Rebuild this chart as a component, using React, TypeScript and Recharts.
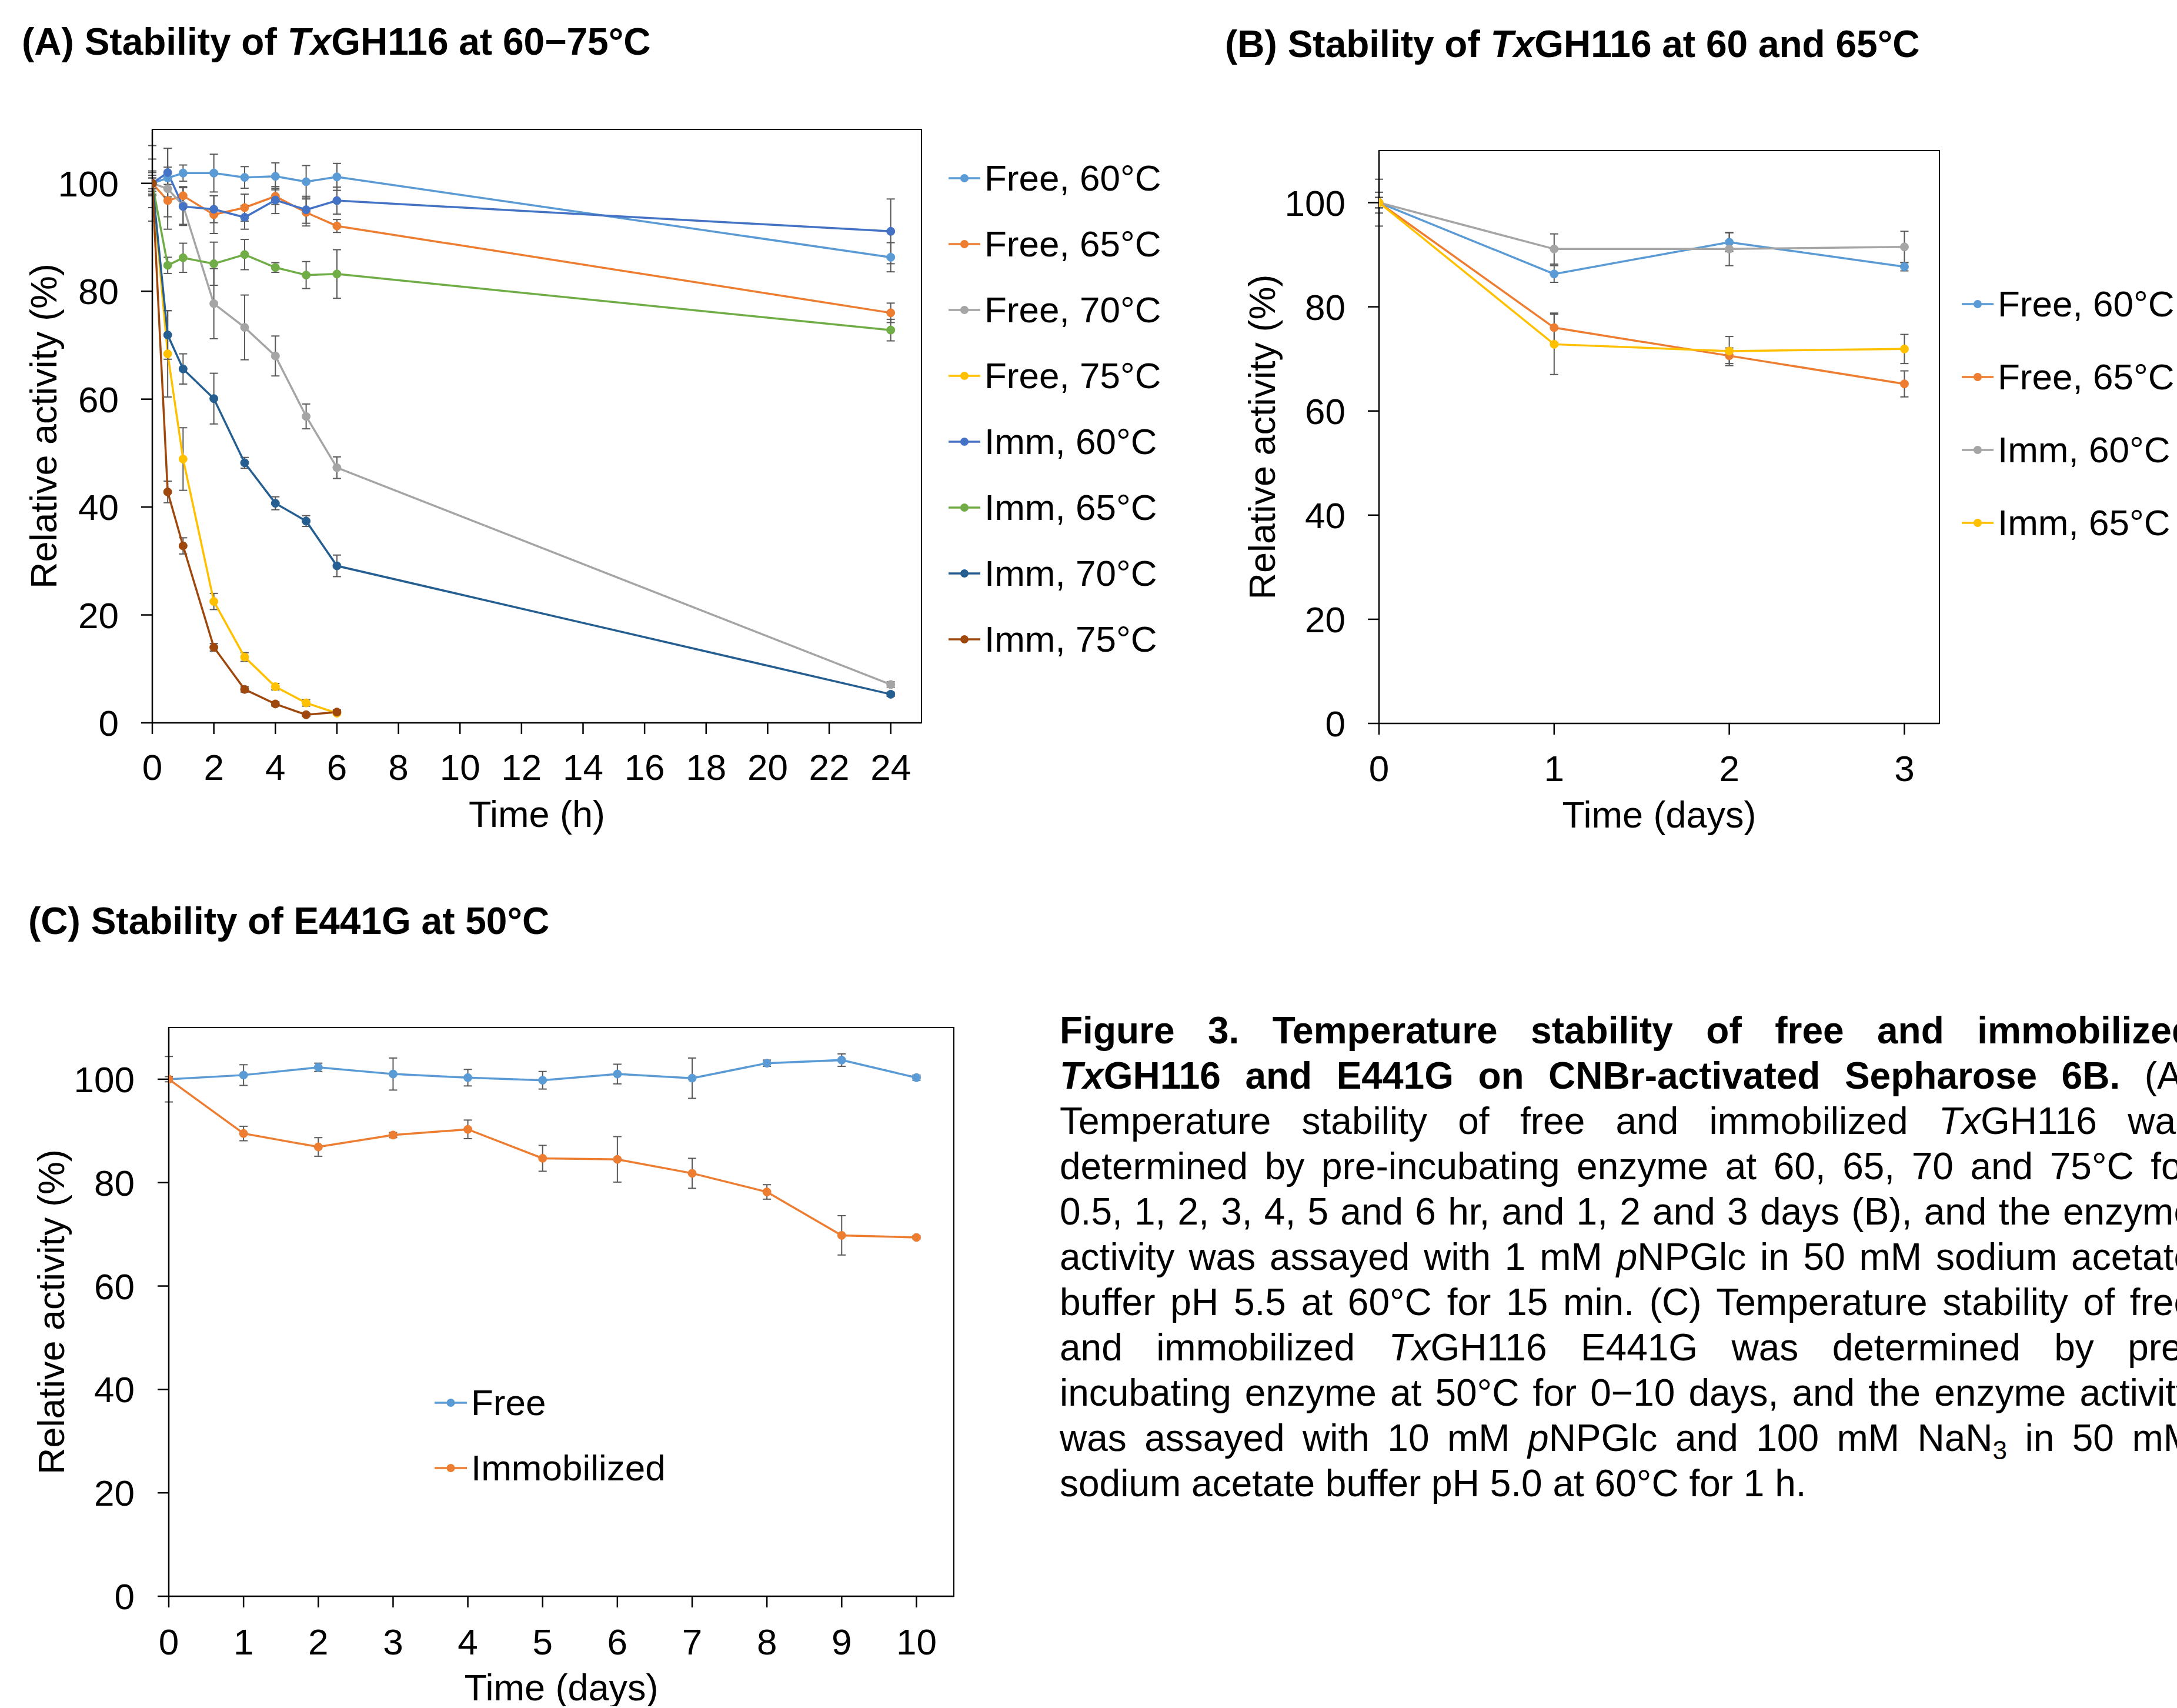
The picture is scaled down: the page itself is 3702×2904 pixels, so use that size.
import React from 'react';
import { LineChart, Line, XAxis, YAxis, ErrorBar, Legend, ReferenceArea, Label } from 'recharts';

const FONT = '"Liberation Sans", Arial, Helvetica, sans-serif';

// ---------- (A) 60-75 °C, hours ----------
const hoursA = [0, 0.5, 1, 2, 3, 4, 5, 6, 24];
const free60A = [100, 101, 101.9, 101.9, 101.1, 101.3, 100.3, 101.2, 86.3];
const free65A = [100, 96.8, 97.7, 94.2, 95.5, 97.6, 94.6, 92.1, 76.0];
const free70A = [100, 99, 95.9, 77.7, 73.3, 68, 56.8, 47.3, 7.1];
const free75A = [100, 68.4, 48.9, 22.5, 12.2, 6.7, 3.7, 1.8];
const imm60A = [100, 102, 95.7, 95.2, 93.7, 96.9, 95.1, 96.8, 91.1];
const imm65A = [100, 84.8, 86.2, 85.1, 86.8, 84.4, 83, 83.2, 72.8];
const imm70A = [100, 71.9, 65.6, 60.1, 48.2, 40.7, 37.4, 29.1, 5.3];
const imm75A = [100, 42.8, 32.8, 14, 6.2, 3.5, 1.5, 2];

const free60AErr = [4.5, 2, 1.5, 3.5, 2, 2.5, 3, 2.5, 2.7];
const free65AErr = [7, 3, 1.5, 3.5, 2.5, 1.5, 2.5, 1.2, 1.8];
const free70AErr = [2.3, 7.5, 3.5, 6.5, 6, 3.7, 2.3, 2, 0.5];
const free75AErr = [1.5, 8, 5.8, 1.5, 0.8, 0.6, 0.6, 0.3];
const imm60AErr = [2, 4.5, 3.5, 2.5, 2.2, 2.5, 2.5, 2.5, 6];
const imm65AErr = [1.5, 1.5, 2.7, 4, 2.8, 0.9, 2.5, 4.5, 2];
const imm70AErr = [1, 4.5, 2.8, 4.7, 1, 1.2, 1, 2, 0.4];
const imm75AErr = [1, 2, 1.5, 0.7, 0.5, 0.4, 0.3, 0.4];

const ticksA = [0, 2, 4, 6, 8, 10, 12, 14, 16, 18, 20, 22, 24];

// ---------- (B) 60 and 65 °C, days ----------
const daysB = [0, 1, 2, 3];
const free60B = [100, 86.3, 92.4, 87.7];
const free65B = [100, 76, 70.6, 65.2];
const imm60B = [100, 91.1, 91.1, 91.5];
const imm65B = [100, 72.8, 71.5, 71.9];

const free60BErr = [4.5, 1.6, 1.8, 0.8];
const free65BErr = [2, 2.8, 1.5, 2.5];
const imm60BErr = [1, 2.9, 3.2, 3];
const imm65BErr = [1, 5.8, 2.8, 2.8];

const ticksB = [0, 1, 2, 3];

// ---------- (C) E441G at 50 °C, days ----------
const daysC = [0, 1, 2, 3, 4, 5, 6, 7, 8, 9, 10];
const freeC = [100, 100.8, 102.3, 101, 100.3, 99.8, 101, 100.2, 103.1, 103.7, 100.3];
const immC = [100, 89.5, 86.9, 89.2, 90.3, 84.7, 84.5, 81.8, 78.2, 69.8, 69.4];
const freeCErr = [4.4, 2, 0.8, 3.1, 1.6, 1.7, 1.9, 3.9, 0.6, 1.2, 0.5];
const immCErr = [0.5, 1.4, 1.8, 0.5, 1.8, 2.5, 4.4, 2.9, 1.4, 3.8, 0.3];

const ticksC = [0, 1, 2, 3, 4, 5, 6, 7, 8, 9, 10];

const yTicks = [0, 20, 40, 60, 80, 100];

const toPoints = (xs: number[], ys: number[], es: number[]) =>
  ys.map((y, i) => ({ x: xs[i], y, e: es[i] }));

const seriesA = [
  { name: 'Free, 60°C', color: '#5B9BD5', data: toPoints(hoursA, free60A, free60AErr) },
  { name: 'Free, 65°C', color: '#ED7D31', data: toPoints(hoursA, free65A, free65AErr) },
  { name: 'Free, 70°C', color: '#A5A5A5', data: toPoints(hoursA, free70A, free70AErr) },
  { name: 'Free, 75°C', color: '#FFC000', data: toPoints(hoursA, free75A, free75AErr) },
  { name: 'Imm, 60°C', color: '#4472C4', data: toPoints(hoursA, imm60A, imm60AErr) },
  { name: 'Imm, 65°C', color: '#70AD47', data: toPoints(hoursA, imm65A, imm65AErr) },
  { name: 'Imm, 70°C', color: '#255E91', data: toPoints(hoursA, imm70A, imm70AErr) },
  { name: 'Imm, 75°C', color: '#9E480E', data: toPoints(hoursA, imm75A, imm75AErr) },
];

const seriesB = [
  { name: 'Free, 60°C', color: '#5B9BD5', data: toPoints(daysB, free60B, free60BErr) },
  { name: 'Free, 65°C', color: '#ED7D31', data: toPoints(daysB, free65B, free65BErr) },
  { name: 'Imm, 60°C', color: '#A5A5A5', data: toPoints(daysB, imm60B, imm60BErr) },
  { name: 'Imm, 65°C', color: '#FFC000', data: toPoints(daysB, imm65B, imm65BErr) },
];

const seriesC = [
  { name: 'Free', color: '#5B9BD5', data: toPoints(daysC, freeC, freeCErr) },
  { name: 'Immobilized', color: '#ED7D31', data: toPoints(daysC, immC, immCErr) },
];

type Seg = [string, string];
const captionLines: Seg[][] = [
  [['Figure 3. Temperature stability of free and immobilized', 'b']],
  [['Tx', 'bi'], ['GH116 and E441G on CNBr-activated Sepharose 6B.', 'b'], [' (A)', 'n']],
  [['Temperature stability of free and immobilized ', 'n'], ['Tx', 'i'], ['GH116 was', 'n']],
  [['determined by pre-incubating enzyme at 60, 65, 70 and 75°C for', 'n']],
  [['0.5, 1, 2, 3, 4, 5 and 6 hr, and 1, 2 and 3 days (B), and the enzyme', 'n']],
  [['activity was assayed with 1 mM ', 'n'], ['p', 'i'], ['NPGlc in 50 mM sodium acetate', 'n']],
  [['buffer pH 5.5 at 60°C for 15 min. (C) Temperature stability of free', 'n']],
  [['and immobilized ', 'n'], ['Tx', 'i'], ['GH116 E441G was determined by pre-', 'n']],
  [['incubating enzyme at 50°C for 0−10 days, and the enzyme activity', 'n']],
  [['was assayed with 10 mM ', 'n'], ['p', 'i'], ['NPGlc and 100 mM NaN', 'n'], ['3', 'sub'], [' in 50 mM', 'n']],
  [['sodium acetate buffer pH 5.0 at 60°C for 1 h.', 'n']],
];

const makeLegend = (rowHeight: number, lineLen: number) => (props: any) => (
  <div style={{ fontFamily: FONT, fontSize: 62, color: '#000' }}>
    {(props.payload || []).map((p: any) => (
      <div
        key={p.value}
        style={{ display: 'flex', alignItems: 'center', height: rowHeight, whiteSpace: 'nowrap' }}
      >
        <svg width={lineLen} height={20} style={{ flex: 'none' }}>
          <line x1={0} y1={10} x2={lineLen} y2={10} stroke={p.color} strokeWidth={3.5} />
          <circle cx={lineLen / 2} cy={10} r={7} fill={p.color} />
        </svg>
        <span style={{ marginLeft: 7, lineHeight: 1 }}>{p.value}</span>
      </div>
    ))}
  </div>
);

interface PanelProps {
  series: { name: string; color: string; data: { x: number; y: number; e: number }[] }[];
  left: number;
  top: number;
  width: number;
  height: number;
  margin: { top: number; right: number; bottom: number; left: number };
  yAxisWidth: number;
  yLabelOffset: number;
  xDomain: [number, number];
  xTicks: number[];
  xTickMargin: number;
  yTickMargin: number;
  xLabel: string;
  legendPos: { left: number; top: number };
  legendRow: number;
  legendLine: number;
}

function Panel(p: PanelProps) {
  const tickStyle = { fill: '#000', fontSize: 62, fontFamily: FONT };
  const labelStyle = { fill: '#000', fontSize: 63, fontFamily: FONT };
  return (
    <div style={{ position: 'absolute', left: p.left, top: p.top }}>
      <LineChart width={p.width} height={p.height} margin={p.margin}>
        <ReferenceArea
          x1={p.xDomain[0]}
          x2={p.xDomain[1]}
          y1={0}
          y2={110}
          fill="none"
          fillOpacity={0}
          stroke="#000"
          strokeWidth={2}
        />
        <XAxis
          type="number"
          dataKey="x"
          domain={p.xDomain}
          ticks={p.xTicks}
          interval={0}
          height={177}
          tick={tickStyle}
          tickSize={19}
          tickMargin={p.xTickMargin}
          stroke="#000"
          strokeWidth={2.5}
          allowDataOverflow
        >
          <Label value={p.xLabel} position="insideBottom" offset={0} style={labelStyle} />
        </XAxis>
        <YAxis
          type="number"
          dataKey="y"
          domain={[0, 110]}
          ticks={yTicks}
          interval={0}
          width={p.yAxisWidth}
          tick={tickStyle}
          tickSize={19}
          tickMargin={p.yTickMargin}
          stroke="#000"
          strokeWidth={2.5}
          allowDataOverflow
        >
          <Label
            value="Relative activity (%)"
            angle={-90}
            position="insideLeft"
            offset={p.yLabelOffset}
            style={{ ...labelStyle, textAnchor: 'middle' }}
          />
        </YAxis>
        {p.series.map((s) => (
          <Line
            key={s.name}
            name={s.name}
            data={s.data}
            dataKey="y"
            type="linear"
            stroke={s.color}
            strokeWidth={3.5}
            dot={{ r: 7, fill: s.color, stroke: s.color, strokeWidth: 1 }}
            activeDot={false}
            isAnimationActive={false}
          >
            <ErrorBar dataKey="e" direction="y" width={7} stroke="#595959" strokeWidth={2} />
          </Line>
        ))}
        <Legend
          layout="vertical"
          align="center"
          verticalAlign="middle"
          content={makeLegend(p.legendRow, p.legendLine)}
          wrapperStyle={{ left: p.legendPos.left, top: p.legendPos.top, width: 420 }}
        />
      </LineChart>
    </div>
  );
}

const segStyle = (kind: string): React.CSSProperties => {
  if (kind === 'b') return { fontWeight: 'bold' };
  if (kind === 'bi') return { fontWeight: 'bold', fontStyle: 'italic' };
  if (kind === 'i') return { fontStyle: 'italic' };
  if (kind === 'sub') return { fontSize: 44, position: 'relative', top: 14 };
  return {};
};

function Title({ left, top, parts }: { left: number; top: number; parts: Seg[] }) {
  return (
    <div
      style={{
        position: 'absolute',
        left,
        top,
        fontFamily: FONT,
        fontWeight: 'bold',
        fontSize: 64,
        lineHeight: '64px',
        whiteSpace: 'nowrap',
        color: '#000',
      }}
    >
      {parts.map(([t, k], i) => (
        <span key={i} style={k === 'bi' ? { fontStyle: 'italic' } : {}}>
          {t}
        </span>
      ))}
    </div>
  );
}

export default function App() {
  return (
    <div
      style={{
        position: 'absolute',
        left: 0,
        top: 0,
        width: 3702,
        height: 2904,
        overflow: 'hidden',
        background: '#fff',
      }}
    >
      <Title left={37} top={39} parts={[['(A) Stability of ', 'b'], ['Tx', 'bi'], ['GH116 at 60−75°C', 'b']]} />
      <Title left={2083} top={43} parts={[['(B) Stability of ', 'b'], ['Tx', 'bi'], ['GH116 at 60 and 65°C', 'b']]} />
      <Title left={48} top={1534} parts={[['(C) Stability of E441G at 50°C', 'b']]} />

      <Panel
        series={seriesA}
        left={0}
        top={0}
        width={1900}
        height={1426}
        margin={{ top: 220, right: 333, bottom: 20, left: 0 }}
        yAxisWidth={259}
        yLabelOffset={74}
        xDomain={[0, 25]}
        xTicks={ticksA}
        xTickMargin={34}
        yTickMargin={38}
        xLabel="Time (h)"
        legendPos={{ left: 1613, top: 247 }}
        legendRow={112}
        legendLine={54}
      />

      <Panel
        series={seriesB}
        left={2080}
        top={0}
        width={1622}
        height={1426}
        margin={{ top: 256, right: 404, bottom: 19, left: 0 }}
        yAxisWidth={265}
        yLabelOffset={66}
        xDomain={[0, 3.2]}
        xTicks={ticksB}
        xTickMargin={35}
        yTickMargin={38}
        xLabel="Time (days)"
        legendPos={{ left: 1256, top: 455 }}
        legendRow={124}
        legendLine={54}
      />

      <Panel
        series={seriesC}
        left={0}
        top={1500}
        width={1700}
        height={1401}
        margin={{ top: 247, right: 78, bottom: 10, left: 0 }}
        yAxisWidth={287}
        yLabelOffset={87}
        xDomain={[0, 10.5]}
        xTicks={ticksC}
        xTickMargin={36}
        yTickMargin={39}
        xLabel="Time (days)"
        legendPos={{ left: 739, top: 829 }}
        legendRow={111}
        legendLine={55}
      />

      <div
        style={{
          position: 'absolute',
          left: 1802,
          top: 1714,
          width: 1930,
          fontFamily: FONT,
          fontSize: 64,
          lineHeight: '77px',
          color: '#000',
        }}
      >
        {captionLines.map((line, li) => (
          <div
            key={li}
            style={{
              height: 77,
              whiteSpace: 'nowrap',
              textAlign: li === captionLines.length - 1 ? 'left' : 'justify',
              textAlignLast: li === captionLines.length - 1 ? 'left' : 'justify',
            }}
          >
            {line.map(([t, k], i) => (
              <span key={i} style={segStyle(k)}>
                {t}
              </span>
            ))}
          </div>
        ))}
      </div>
    </div>
  );
}
